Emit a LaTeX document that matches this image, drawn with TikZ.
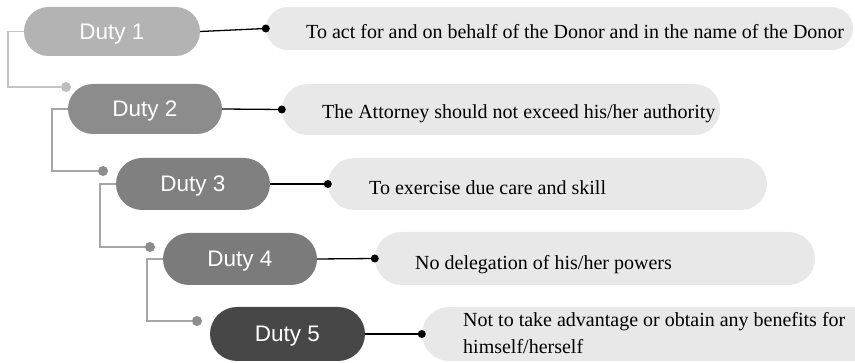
\documentclass[tikz,border=0pt]{standalone}
\usepackage{fontspec}
\setmainfont{Liberation Serif}
\newfontfamily\dutyfont{Liberation Sans}
\usetikzlibrary{shapes.misc}
\definecolor{dutyA}{HTML}{B3B3B3}
\definecolor{dutyB}{HTML}{8C8C8C}
\definecolor{dutyC}{HTML}{808080}
\definecolor{dutyD}{HTML}{7B7B7B}
\definecolor{dutyE}{HTML}{474747}
\definecolor{boxfill}{HTML}{E8E8E8}
\definecolor{glineA}{HTML}{C4C4C4}
\definecolor{glineB}{HTML}{A6A6A6}
\definecolor{gdotA}{HTML}{BEBEBE}
\definecolor{gdotB}{HTML}{8C8C8C}
\tikzset{
  dutybox/.style={rounded rectangle, draw=none, inner sep=0pt, text=white,
    font=\dutyfont\fontsize{22.5}{26}\selectfont, text height=16pt, text depth=0pt},
  txtbox/.style={rounded rectangle, draw=none, fill=boxfill, inner sep=0pt},
  txt/.style={inner sep=0pt, text=black, font=\fontsize{20}{28}\selectfont, align=left},
  bline/.style={draw=black, line width=1.3pt},
  bdot/.style={circle, fill=black, inner sep=0pt, minimum size=8pt},
  gline/.style={line width=1.5pt},
  gdot/.style={circle, inner sep=0pt, minimum size=10pt}
}
\begin{document}
\begin{tikzpicture}[x=1pt,y=-1pt]
\useasboundingbox (0,0) rectangle (855,363);
\clip (0,0) rectangle (855,363);
% text boxes
\node[txtbox, minimum width=587pt, minimum height=43pt] (b1) at (559.5,28.5) {};
\node[txtbox, minimum width=438pt, minimum height=51pt] (b2) at (501,109.5) {};
\node[txtbox, minimum width=439pt, minimum height=52pt] (b3) at (547.5,184) {};
\node[txtbox, minimum width=440pt, minimum height=53pt] (b4) at (595,258.5) {};
\node[txtbox, minimum width=480pt, minimum height=54pt] (b5) at (662,334) {};
% texts
\node[txt, anchor=base west] (t1) at (306,39) {To act for and on behalf of the Donor and in the name of the Donor};
\node[txt, anchor=base west] (t2) at (322,119) {The Attorney should not exceed his/her authority};
\node[txt, anchor=base west] (t3) at (369,195) {To exercise due care and skill};
\node[txt, anchor=base west] (t4) at (415,270) {No delegation of his/her powers};
\node[txt, anchor=base west] (t5) at (463,326.5) {Not to take advantage or obtain any benefits for};
\node[txt, anchor=base west] (t6) at (463,354) {himself/herself};
% duty boxes
\node[dutybox, fill=dutyA, minimum width=176pt, minimum height=49pt] (d1) at (112,31.5) {Duty 1};
\node[dutybox, fill=dutyB, minimum width=154pt, minimum height=50pt] (d2) at (145,109) {Duty 2};
\node[dutybox, fill=dutyC, minimum width=154pt, minimum height=52pt] (d3) at (193,184) {Duty 3};
\node[dutybox, fill=dutyD, minimum width=154pt, minimum height=52pt] (d4) at (240,259) {Duty 4};
\node[dutybox, fill=dutyE, minimum width=155pt, minimum height=54pt] (d5) at (287.5,334) {Duty 5};
% grey elbow connectors
\node[gdot, fill=gdotA] (g1) at (66,87) {};
\node[gdot, fill=gdotB] (g2) at (103,171) {};
\node[gdot, fill=gdotB] (g3) at (150,247) {};
\node[gdot, fill=gdotB] (g4) at (197,321) {};
\draw[gline, draw=glineA] (d1.west) -- ++(-16,0) |- (g1);
\draw[gline, draw=glineB] (d2.west) -- ++(-16,0) |- (g2);
\draw[gline, draw=glineB] (d3.west) -- ++(-16,0) |- (g3);
\draw[gline, draw=glineB] (d4.west) -- ++(-16,0) |- (g4);
% black connectors
\node[bdot] (k1) at (b1.west) {};
\node[bdot] (k2) at (b2.west) {};
\node[bdot] (k3) at (b3.west) {};
\node[bdot] (k4) at (b4.west) {};
\node[bdot] (k5) at (b5.west) {};
\draw[bline] (d1.east) -- (k1.center);
\draw[bline] (d2.east) -- (k2.center);
\draw[bline] (d3.east) -- (k3.center);
\draw[bline] (d4.east) -- (k4.center);
\draw[bline] (d5.east) -- (k5.center);
\end{tikzpicture}
\end{document}
